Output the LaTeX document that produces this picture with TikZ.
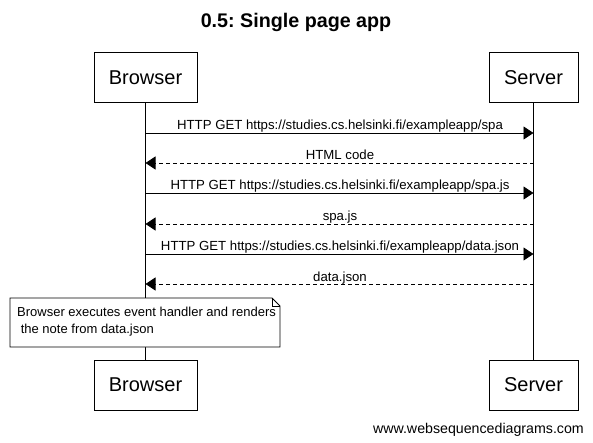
\documentclass[tikz,border=0pt]{standalone}
\usepackage{fontspec}
\setmainfont{Liberation Sans}
\usetikzlibrary{arrows.meta}
\frenchspacing
\begin{document}
\begin{tikzpicture}[x=1pt,y=-1pt,
  actor/.style={draw,line width=1pt,minimum width=103pt,minimum height=50pt,inner sep=0pt,font=\fontsize{20}{24}\selectfont,fill=white},
  msg/.style={line width=0.8pt,-{Triangle[length=10pt,width=13pt]}},
  reply/.style={msg,dash pattern=on 4pt off 3pt},
  lbl/.style={font=\fontsize{13.2}{15}\selectfont,inner sep=0pt,anchor=base},
  life/.style={line width=0.8pt}]
\useasboundingbox (0,0) rectangle (593,443);
\node[font=\bfseries\fontsize{19.7}{22}\selectfont] (title) at (296,22) {0.5: Single page app};
\node[actor] (bt) at (145.5,78) {Browser};
\node[actor,minimum width=89pt] (st) at (533.5,78) {Server};
\node[actor] (bb) at (145.5,385) {Browser};
\node[actor,minimum width=89pt] (sb) at (533.5,385) {Server};
\draw[life] (bt) -- (bb);
\draw[life] (st) -- (sb);
% message coordinates
\foreach \i/\y in {1/133,2/163,3/193,4/224,5/254,6/284}{
  \coordinate (b\i) at (145.5,\y);
  \coordinate (s\i) at (533.5,\y);
}
\draw[msg] (b1) -- (s1);
\node[lbl] (l1) at (340,130) {HTTP GET https://studies.cs.helsinki.fi/exampleapp/spa};
\draw[reply] (s2) -- (b2);
\node[lbl] (l2) at (340,160) {HTML code};
\draw[msg] (b3) -- (s3);
\node[lbl] (l3) at (340,190) {HTTP GET https://studies.cs.helsinki.fi/exampleapp/spa.js};
\draw[reply] (s4) -- (b4);
\node[lbl] (l4) at (340,221) {spa.js};
\draw[msg] (b5) -- (s5);
\node[lbl] (l5) at (340,251) {HTTP GET https://studies.cs.helsinki.fi/exampleapp/data.json};
\draw[reply] (s6) -- (b6);
\node[lbl] (l6) at (340,281) {data.json};
% note
\draw[line width=0.8pt,fill=white] (10,298) -- (272,298) -- (280,306) -- (280,347) -- (10,347) -- cycle;
\draw[line width=0.6pt] (272,298) -- (272,306) -- (280,306);
\node[font=\fontsize{13}{17}\selectfont,inner sep=0pt,anchor=north west,align=left] (note) at (17,307) {Browser executes event handler and renders\\\ the note from data.json};
\node[font=\fontsize{14.2}{16}\selectfont,inner sep=0pt,anchor=base east] (wm) at (584,433) {www.websequencediagrams.com};
\end{tikzpicture}
\end{document}
